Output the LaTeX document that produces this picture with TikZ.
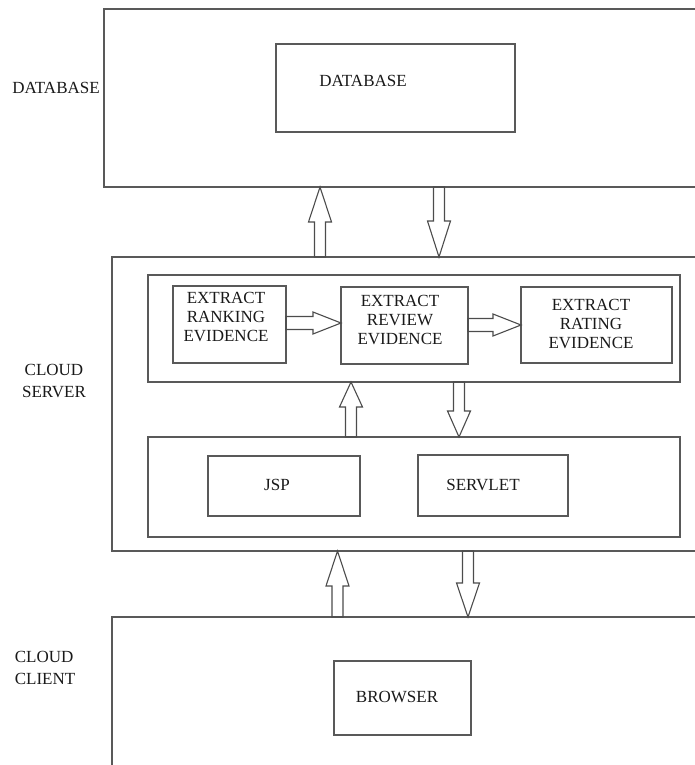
\documentclass[tikz,border=0pt]{standalone}
\usepackage{fontspec}
\setmainfont{Liberation Serif}
\usetikzlibrary{calc}

% hollow block arrows: vertical {head length}{from}{to}, horizontal {from}{to}
\newcommand{\varrow}[3]{%
\draw[blk] let \p1=(#2), \p2=(#3), \p3=($(\p2)!#1!(\p1)$) in
  (\x1-5.5pt,\y1) -- (\x1-5.5pt,\y3) -- (\x1-11.5pt,\y3) -- (\x1,\y2)
  -- (\x1+11.5pt,\y3) -- (\x1+5.5pt,\y3) -- (\x1+5.5pt,\y1) -- cycle;}
\newcommand{\harrow}[2]{%
\draw[blk] let \p1=(#1), \p2=(#2), \p3=($(\p2)!28pt!(\p1)$) in
  (\x1,\y1-6.5pt) -- (\x3,\y1-6.5pt) -- (\x3,\y1-11pt) -- (\x2,\y1)
  -- (\x3,\y1+11pt) -- (\x3,\y1+6.5pt) -- (\x1,\y1+6.5pt) -- cycle;}

\begin{document}
\begin{tikzpicture}
[
x=1pt, y=-1pt,
every node/.style={inner sep=0pt, outer sep=0pt, text=black!90, font=\fontsize{17}{22}\selectfont},
box/.style={draw=black!65, line width=1.2pt, rectangle},
blk/.style={draw=black!70, line width=1.1pt, line join=miter},
tag/.style={align=center},
intag/.style={align=center, font=\fontsize{17}{19}\selectfont}
]
\clip (0,0) rectangle (695,765);

% three tiers
\node[box, minimum width=616pt, minimum height=178pt] (dbzone) at (412,98) {};
\node[box, minimum width=608pt, minimum height=294pt] (srvzone) at (416,404) {};
\node[box, minimum width=608pt, minimum height=173pt] (clientzone) at (416,703.5) {};

\node[tag] (dbtag) at (56,88) {DATABASE};
\node[tag] (srvtag) at (54,381) {CLOUD\\SERVER};
\node[tag, align=left] (clienttag) at (45,668) {CLOUD\\CLIENT};

% database tier
\node[box, minimum width=239pt, minimum height=88pt] (db) at (395.5,88) {};
\node (dbtxt) at (363,81) {DATABASE};

% cloud server tier
\node[box, minimum width=532pt, minimum height=107pt] (extract) at (414,328.5) {};
\node[box, minimum width=113pt, minimum height=77pt] (rank) at (229.5,324.5) {};
\node[box, minimum width=127pt, minimum height=77pt] (review) at (404.5,325.5) {};
\node[box, minimum width=151pt, minimum height=76pt] (rating) at (596.5,325) {};
\node[intag] (ranktxt) at (226,317) {EXTRACT\\RANKING\\EVIDENCE};
\node[intag] (reviewtxt) at (400,320) {EXTRACT\\REVIEW\\EVIDENCE};
\node[intag] (ratingtxt) at (591,323.5) {EXTRACT\\RATING\\EVIDENCE};

\node[box, minimum width=532pt, minimum height=100pt] (web) at (414,487) {};
\node[box, minimum width=152pt, minimum height=60pt] (jsp) at (284,486) {};
\node[box, minimum width=150pt, minimum height=61pt] (servlet) at (493,485.5) {};
\node (jsptxt) at (277,485) {JSP};
\node (servlettxt) at (483,485) {SERVLET};

% cloud client tier
\node[box, minimum width=137pt, minimum height=74pt] (browser) at (402.5,698) {};
\node (browsertxt) at (397,697) {BROWSER};

% arrows
\varrow{35pt}{srvzone.north -| 320,0}{dbzone.south -| 320,0}
\varrow{36pt}{dbzone.south -| 439,0}{srvzone.north -| 439,0}
\varrow{25pt}{web.north -| 351,0}{extract.south -| 351,0}
\varrow{26pt}{extract.south -| 459,0}{web.north -| 459,0}
\varrow{35pt}{clientzone.north -| 337.5,0}{srvzone.south -| 337.5,0}
\varrow{34pt}{srvzone.south -| 468,0}{clientzone.north -| 468,0}
\harrow{rank.east |- 0,323}{review.west |- 0,323}
\harrow{review.east |- 0,325}{rating.west |- 0,325}
\end{tikzpicture}
\end{document}
